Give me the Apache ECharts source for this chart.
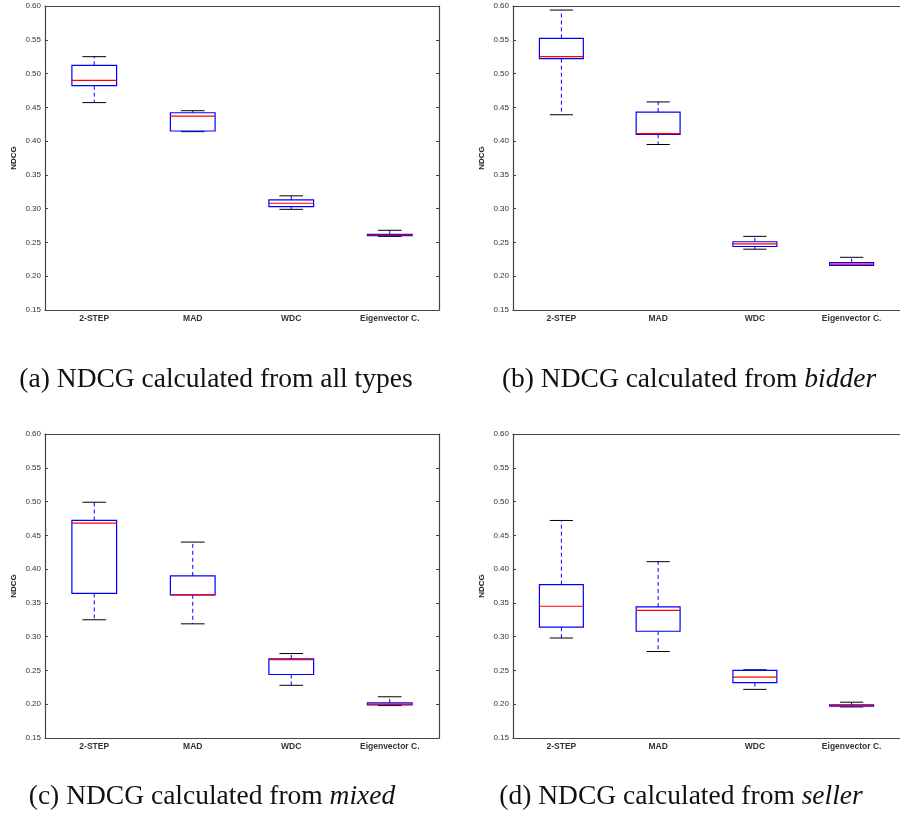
<!DOCTYPE html>
<html>
<head>
<meta charset="utf-8">
<script src="https://cdn.jsdelivr.net/npm/echarts@6/dist/echarts.min.js"></script>
<style>
  html, body { margin: 0; padding: 0; background: #ffffff; }
  #chart { width: 900px; height: 824px; }
</style>
</head>
<body>
<div id="chart"></div>
<script>
// categories and box values: [low whisker, Q1, median, Q3, high whisker]
const categories = ["2-STEP", "MAD", "WDC", "Eigenvector C."];
const allTypes = [
  [0.457, 0.482, 0.490, 0.512, 0.525],
  [0.414, 0.415, 0.437, 0.442, 0.445],
  [0.299, 0.303, 0.308, 0.313, 0.319],
  [0.259, 0.260, 0.261, 0.262, 0.268]
];
const bidder = [
  [0.439, 0.522, 0.525, 0.552, 0.594],
  [0.395, 0.410, 0.411, 0.443, 0.458],
  [0.240, 0.244, 0.248, 0.251, 0.259],
  [0.216, 0.216, 0.218, 0.220, 0.228]
];
const mixed = [
  [0.325, 0.364, 0.468, 0.472, 0.499],
  [0.319, 0.362, 0.362, 0.390, 0.440],
  [0.228, 0.244, 0.266, 0.267, 0.275],
  [0.198, 0.199, 0.200, 0.202, 0.211]
];
const seller = [
  [0.298, 0.314, 0.345, 0.377, 0.472],
  [0.278, 0.308, 0.339, 0.344, 0.411],
  [0.222, 0.232, 0.240, 0.250, 0.251],
  [0.196, 0.197, 0.198, 0.199, 0.203]
];
const yMin = 0.15, yMax = 0.60, yStep = 0.05;
const captions = [
  "(a) NDCG calculated from all types",
  "(b) NDCG calculated from {i|bidder}",
  "(c) NDCG calculated from {i|mixed}",
  "(d) NDCG calculated from {i|seller}"
];

const panels = [allTypes, bidder, mixed, seller];
// grid boxes (pixels); right-hand panels run past the page edge like the original
const grids = [
  { left: 45, top: 6, width: 394, height: 304 },
  { left: 513, top: 6, width: 394, height: 304 },
  { left: 45, top: 434, width: 394, height: 304 },
  { left: 513, top: 434, width: 394, height: 304 }
];
const capPos = [[216, 380], [689, 380], [212, 797], [681, 797]];

const frame = { lineStyle: { color: "#444", width: 1.2 } };
const tickFont = { fontFamily: "Liberation Sans", color: "#333" };

let xAxis = [], yAxis = [], series = [], graphic = [];

function renderBox(params, api) {
  const x = api.value(0);
  const band = api.size([1, 0])[0];
  const hw = band * 0.227, cw = band * 0.12;
  const lo = api.coord([x, api.value(1)]);
  const q1 = api.coord([x, api.value(2)]);
  const md = api.coord([x, api.value(3)]);
  const q3 = api.coord([x, api.value(4)]);
  const hi = api.coord([x, api.value(5)]);
  const cx = q1[0];
  const dash = { stroke: "#0000ff", lineWidth: 1, lineDash: [4, 3] };
  return {
    type: "group",
    children: [
      { type: "line", shape: { x1: cx, y1: q3[1], x2: cx, y2: hi[1] }, style: dash },
      { type: "line", shape: { x1: cx, y1: q1[1], x2: cx, y2: lo[1] }, style: dash },
      { type: "line", shape: { x1: cx - cw, y1: hi[1], x2: cx + cw, y2: hi[1] }, style: { stroke: "#000", lineWidth: 1 } },
      { type: "line", shape: { x1: cx - cw, y1: lo[1], x2: cx + cw, y2: lo[1] }, style: { stroke: "#000", lineWidth: 1 } },
      { type: "rect", shape: { x: cx - hw, y: q3[1], width: hw * 2, height: q1[1] - q3[1] }, style: { fill: "none", stroke: "#0000ff", lineWidth: 1.2 } },
      { type: "line", shape: { x1: cx - hw, y1: md[1], x2: cx + hw, y2: md[1] }, style: { stroke: "#ff0000", lineWidth: 1.2 } }
    ]
  };
}

panels.forEach(function (data, i) {
  const rightSide = i % 2 === 1;
  // bottom and top category axes
  xAxis.push({
    type: "category", gridIndex: i, data: categories, position: "bottom",
    axisLine: frame,
    axisTick: { inside: true, alignWithLabel: true, length: 3, lineStyle: { color: "#444" } },
    axisLabel: Object.assign({ fontSize: 8.5, fontWeight: "bold", margin: 4, interval: 0 }, tickFont),
    splitLine: { show: false }
  });
  xAxis.push({
    type: "category", gridIndex: i, data: categories, position: "top",
    axisLine: frame,
    axisTick: { inside: true, alignWithLabel: true, length: 3, lineStyle: { color: "#444" } },
    axisLabel: { show: false }, splitLine: { show: false }
  });
  // left and right value axes
  yAxis.push({
    type: "value", gridIndex: i, min: yMin, max: yMax, interval: yStep, position: "left",
    name: "NDCG", nameLocation: "middle", nameGap: 27,
    nameTextStyle: { fontFamily: "Liberation Sans", fontWeight: "bold", fontSize: 8, color: "#222" },
    axisLine: Object.assign({ show: true }, frame),
    axisTick: { show: true, inside: true, length: 3, lineStyle: { color: "#444" } },
    axisLabel: Object.assign({ fontSize: 8, margin: 4, formatter: function (v) { return v.toFixed(2); } }, tickFont),
    splitLine: { show: false }
  });
  yAxis.push({
    type: "value", gridIndex: i, min: yMin, max: yMax, interval: yStep, position: "right",
    show: !rightSide,
    axisLine: Object.assign({ show: true }, frame),
    axisTick: { show: true, inside: true, length: 3, lineStyle: { color: "#444" } },
    axisLabel: { show: false }, splitLine: { show: false }
  });
  series.push({
    type: "custom",
    xAxisIndex: i * 2,
    yAxisIndex: i * 2,
    renderItem: renderBox,
    encode: { x: 0, y: [1, 2, 3, 4, 5] },
    data: data.map(function (d, k) { return [k].concat(d); }),
    clip: false,
    silent: true
  });
  graphic.push({
    type: "text",
    x: capPos[i][0], y: capPos[i][1],
    style: {
      text: captions[i],
      fontFamily: "Liberation Serif",
      fontSize: 27.5,
      fill: "#111",
      align: "center",
      verticalAlign: "middle",
      rich: { i: { fontFamily: "Liberation Serif", fontStyle: "italic", fontSize: 27.5, fill: "#111" } }
    }
  });
});

const chart = echarts.init(document.getElementById("chart"));
chart.setOption({
  animation: false,
  backgroundColor: "#ffffff",
  grid: grids.map(function (g) { return Object.assign({ containLabel: false }, g); }),
  xAxis: xAxis,
  yAxis: yAxis,
  series: series,
  graphic: graphic
});
</script>
</body>
</html>
